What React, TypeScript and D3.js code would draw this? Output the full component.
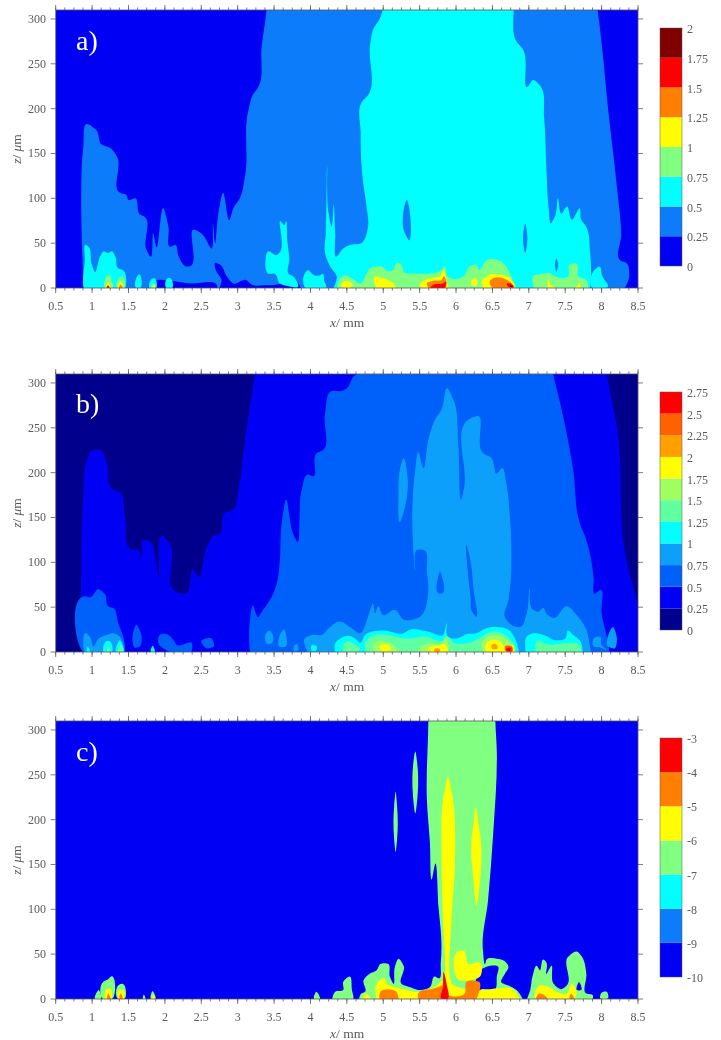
import React from 'react';
import * as d3 from 'd3';

type Pt = [number, number];
type Layer = [number, Pt[]];

const xTicks = [0.5, 1, 1.5, 2, 2.5, 3, 3.5, 4, 4.5, 5, 5.5, 6, 6.5, 7, 7.5, 8, 8.5];
const xLabels = ['0.5', '1', '1.5', '2', '2.5', '3', '3.5', '4', '4.5', '5', '5.5', '6', '6.5', '7', '7.5', '8', '8.5'];
const zTicks = [0, 50, 100, 150, 200, 250, 300];

const aLevels = ['0', '0.25', '0.5', '0.75', '1', '1.25', '1.5', '1.75', '2'];
const bLevels = ['0', '0.25', '0.5', '0.75', '1', '1.25', '1.5', '1.75', '2', '2.25', '2.5', '2.75'];
const cLevels = ['-10', '-9', '-8', '-7', '-6', '-5', '-4', '-3'];

const aColors = ['#0000f4', '#0a7cfa', '#00ffff', '#80ff80', '#ffff00', '#ff8000', '#ff0000', '#800000'];
const bColors = ['#00008c', '#0000f4', '#0560fa', '#0aa0fa', '#00ffff', '#60ffa0', '#a0ff60', '#ffff00', '#ffa000', '#ff6000', '#ff0000'];
const cColors = ['#0000f4', '#0a7cfa', '#00ffff', '#80ff80', '#ffff00', '#ff8000', '#ff0000'];

// panel a, contour outlines as [x mm, z um]
const a025: Pt[] = [[0.88, -2], [0.88, 0], [0.86, 50], [0.85, 98], [0.88, 158], [0.93, 183], [1.06, 176], [1.13, 160], [1.25, 156], [1.34, 147], [1.39, 106], [1.47, 104], [1.5, 98], [1.59, 100], [1.66, 82], [1.71, 80], [1.75, 42], [1.8, 35], [1.84, 61], [1.88, 46], [1.98, 89], [2.05, 68], [2.08, 46], [2.14, 48], [2.19, 35], [2.3, 24], [2.33, 24], [2.41, 65], [2.5, 61], [2.64, 44], [2.66, 72], [2.69, 50], [2.73, 80], [2.8, 106], [2.89, 76], [2.94, 89], [3.03, 100], [3.1, 124], [3.15, 199], [3.22, 217], [3.26, 221], [3.33, 270], [3.4, 312], [3.42, 330], [7.9, 330], [7.94, 312], [8.0, 273], [8.09, 199], [8.21, 113], [8.27, 61], [8.27, 30], [8.34, 28], [8.38, 16], [8.34, 3], [8.3, -2]];
const aDip: Pt[] = [[2.69, 28], [2.76, 26], [2.85, 13], [2.94, 5], [3.12, 9], [3.19, 4], [3.4, 3], [3.86, 1], [3.86, -2], [2.74, -2], [2.78, 8], [2.7, 20]];
const aDip2: Pt[] = [[1.8, 2], [2.36, 5], [2.72, 2], [2.72, -2], [1.8, -2]];
const aCyanMain: Pt[] = [[5.02, 330], [5.0, 312], [4.95, 300], [4.86, 288], [4.82, 272], [4.77, 213], [4.72, 209], [4.69, 172], [4.72, 120], [4.77, 91], [4.79, 68], [4.7, 50], [4.54, 48], [4.45, 44], [4.36, 35], [4.34, 61], [4.32, 93], [4.29, 68], [4.25, 83], [4.23, 135], [4.21, 61], [4.2, 39], [4.27, 24], [4.36, 13], [4.31, -2], [7.84, -2], [7.84, 42], [7.79, 68], [7.72, 76], [7.7, 89], [7.59, 76], [7.52, 91], [7.45, 83], [7.4, 100], [7.36, 80], [7.3, 72], [7.28, 83], [7.24, 136], [7.21, 190], [7.15, 226], [7.06, 232], [6.99, 225], [6.92, 266], [6.83, 275], [6.79, 312], [6.78, 330]];
const aCyanLeft: Pt[] = [[0.9, -2], [0.9, 30], [0.92, 48], [0.95, 46], [0.99, 28], [1.04, 18], [1.11, 35], [1.16, 41], [1.22, 39], [1.27, 41], [1.32, 35], [1.36, 22], [1.42, 20], [1.45, -2]];
const aCyan1: Pt[] = [[1.61, 0], [1.62, 13], [1.64, 15], [1.66, 0]];
const aCyan2: Pt[] = [[1.79, 0], [1.82, 10], [1.85, 11], [1.88, 0]];
const aCyan3: Pt[] = [[2.02, 0], [2.04, 11], [2.07, 11], [2.1, 0]];
const aCyan4: Pt[] = [[3.38, 28], [3.42, 41], [3.54, 37], [3.57, 39], [3.6, 74], [3.64, 70], [3.66, 74], [3.68, 54], [3.71, 31], [3.7, 16], [3.76, 13], [3.83, 1], [3.7, 2], [3.58, 5], [3.51, 16], [3.42, 16], [3.38, 24]];
const aCyan5: Pt[] = [[3.92, 1], [3.92, 16], [3.97, 20], [4.02, 16], [4.06, 14], [4.12, 14], [4.17, 16], [4.19, 8], [4.22, 1]];
const aCyan6: Pt[] = [[7.86, 1], [7.9, 20], [7.97, 24], [8.01, 13], [8.09, 2]];
const aHole1: Pt[] = [[5.32, 98], [5.27, 80], [5.28, 65], [5.36, 53], [5.38, 69]];
const aHole2: Pt[] = [[6.95, 72], [6.92, 54], [6.95, 39], [6.98, 54]];
const aHole3: Pt[] = [[7.38, 33], [7.36, 26], [7.38, 18], [7.4, 26]];
const aGreenMain: Pt[] = [[4.36, -2], [4.41, 11], [4.47, 14], [4.57, 11], [4.68, 5], [4.77, 16], [4.82, 22], [4.91, 24], [4.98, 24], [5.05, 19], [5.14, 20], [5.18, 28], [5.25, 26], [5.28, 18], [5.46, 16], [5.6, 16], [5.78, 19], [5.85, 24], [5.88, 13], [6.01, 10], [6.1, 13], [6.19, 24], [6.28, 26], [6.32, 20], [6.36, 24], [6.42, 31], [6.58, 31], [6.69, 24], [6.74, 16], [6.83, -2]];
const aGreenRight: Pt[] = [[7.06, 13], [7.18, 16], [7.31, 16], [7.36, 13], [7.47, 11], [7.54, 13], [7.56, 26], [7.66, 27], [7.68, 13], [7.79, 9], [7.82, -2], [7.08, -2]];
const aGreen1: Pt[] = [[1.18, 0], [1.2, 13], [1.23, 15], [1.27, 9], [1.28, 0]];
const aGreen2: Pt[] = [[1.34, 0], [1.37, 11], [1.41, 13], [1.44, 0]];
const aGreen3: Pt[] = [[1.81, 0], [1.84, 6], [1.87, 0]];
const aYellow1: Pt[] = [[4.89, 13], [5.0, 11], [5.14, 5], [5.18, 0], [4.9, 0]];
const aYellow2: Pt[] = [[5.5, 3], [5.57, 9], [5.66, 11], [5.78, 13], [5.83, 20], [5.88, 5], [5.9, 0], [5.52, 0]];
const aYellow3: Pt[] = [[6.35, 7], [6.44, 14], [6.65, 14], [6.74, 11], [6.82, 0], [6.37, 0]];
const aYellow4: Pt[] = [[7.26, 0], [7.27, 10], [7.3, 4], [7.68, 4], [7.69, 7], [7.71, 0]];
const aYellow5: Pt[] = [[6.21, 3], [6.24, 11], [6.28, 10], [6.29, 3]];
const aYellow6: Pt[] = [[4.42, 3], [4.48, 8], [4.58, 3], [4.56, 1], [4.44, 1]];
const aYellow7: Pt[] = [[1.2, 0], [1.22, 7], [1.25, 0]];
const aYellow8: Pt[] = [[1.36, 0], [1.39, 7], [1.43, 0]];
const aYellow9: Pt[] = [[1.83, 0], [1.85, 3], [1.86, 0]];
const aOrange1: Pt[] = [[5.6, 5], [5.69, 8], [5.8, 9], [5.83, 13], [5.87, 3], [5.86, 0], [5.62, 0]];
const aOrange2: Pt[] = [[6.46, 7], [6.51, 11], [6.65, 11], [6.74, 7], [6.8, 2], [6.48, 2]];
const aOrange3: Pt[] = [[1.37, 0], [1.39, 4], [1.42, 0]];
const aRed1: Pt[] = [[5.65, 1], [5.7, 4], [5.82, 5], [5.86, 7], [5.85, 1]];
const aRed2: Pt[] = [[6.7, 5], [6.75, 5], [6.79, 1], [6.72, 1]];
const aRed3: Pt[] = [[1.2, 0], [1.22, 3], [1.24, 0]];
const aDark1: Pt[] = [[6.74, 3], [6.77, 3], [6.78, 1], [6.75, 1]];

// panel b
const b025: Pt[] = [[0.87, -2], [0.87, 0], [0.85, 50], [0.85, 103], [0.88, 177], [0.93, 214], [0.99, 224], [1.11, 225], [1.2, 211], [1.29, 181], [1.37, 179], [1.45, 151], [1.56, 114], [1.63, 114], [1.68, 106], [1.71, 125], [1.8, 123], [1.86, 106], [1.91, 84], [1.98, 129], [2.05, 123], [2.16, 67], [2.28, 65], [2.39, 92], [2.45, 84], [2.58, 118], [2.66, 129], [2.75, 132], [2.82, 155], [2.94, 159], [3.01, 181], [3.1, 237], [3.24, 312], [3.27, 330], [8.05, 330], [8.07, 312], [8.21, 252], [8.34, 103], [8.48, 58], [8.52, 40], [8.6, 20], [8.6, -2]];
const b05Main: Pt[] = [[3.17, -2], [3.17, 36], [3.21, 52], [3.28, 39], [3.35, 47], [3.47, 62], [3.54, 77], [3.58, 103], [3.6, 140], [3.67, 170], [3.72, 147], [3.76, 132], [3.82, 123], [3.85, 147], [3.88, 181], [3.97, 198], [4.03, 196], [4.09, 222], [4.15, 224], [4.2, 266], [4.29, 291], [4.43, 291], [4.5, 294], [4.59, 307], [4.66, 312], [4.7, 330], [7.3, 330], [7.33, 312], [7.43, 278], [7.61, 203], [7.7, 144], [7.79, 125], [7.89, 84], [7.91, 65], [7.98, 69], [8.0, 43], [8.09, 10], [8.11, -2]];
const b05Left: Pt[] = [[0.9, -2], [0.92, 62], [0.97, 61], [1.09, 70], [1.18, 64], [1.22, 51], [1.29, 49], [1.36, 32], [1.44, 13], [1.45, -2]];
const b05a: Pt[] = [[1.56, 10], [1.61, 30], [1.68, 17], [1.65, 6], [1.58, 5]];
const b05b: Pt[] = [[1.91, 10], [1.93, 19], [2.02, 20], [2.12, 13], [2.16, 8], [2.37, 10], [2.37, 2], [2.02, 2]];
const b05c: Pt[] = [[2.5, 12], [2.64, 15], [2.67, 6], [2.58, 4]];
const b075Island: Pt[] = [[5.28, 216], [5.33, 199], [5.3, 162], [5.23, 145], [5.21, 177], [5.23, 204]];
const b075Main: Pt[] = [[3.97, -2], [3.92, 15], [4.03, 19], [4.15, 19], [4.27, 28], [4.4, 34], [4.54, 28], [4.68, 21], [4.79, 39], [4.86, 54], [4.89, 43], [4.93, 51], [5, 41], [5.16, 47], [5.28, 36], [5.5, 39], [5.62, 69], [5.6, 88], [5.55, 114], [5.47, 114], [5.44, 92], [5.41, 120], [5.4, 160], [5.44, 203], [5.48, 223], [5.55, 205], [5.62, 237], [5.71, 259], [5.8, 270], [5.88, 294], [5.96, 282], [6.03, 233], [6.08, 172], [6.11, 183], [6.21, 261], [6.28, 263], [6.37, 222], [6.49, 216], [6.56, 199], [6.63, 205], [6.69, 188], [6.74, 150], [6.76, 118], [6.72, 58], [6.67, 39], [6.83, 28], [6.88, 28], [6.97, 43], [7.01, 71], [7.06, 47], [7.13, 45], [7.2, 49], [7.24, 43], [7.34, 38], [7.52, 51], [7.66, 41], [7.79, 25], [7.84, 6], [7.86, -2]];
const bNotch: Pt[] = [[6.15, 118], [6.2, 60], [6.22, 45], [6.27, 40], [6.24, 70], [6.19, 105]];
const bNotch2: Pt[] = [[5.78, 90], [5.77, 65], [5.8, 65]];
const b075Left: Pt[] = [[0.9, -2], [0.92, 21], [0.97, 17], [1.02, 6], [1.09, 15], [1.2, 19], [1.29, 21], [1.38, 17], [1.44, 2], [1.44, -2]];
const b075a: Pt[] = [[3.38, 19], [3.43, 24], [3.49, 17], [3.47, 10], [3.41, 9]];
const b075b: Pt[] = [[3.56, 13], [3.64, 25], [3.67, 17], [3.66, 6], [3.57, 6]];
const b075c: Pt[] = [[3.77, 6], [3.81, 9], [3.83, 2], [3.78, 1]];
const b075d: Pt[] = [[7.89, 15], [7.98, 17], [8.0, 8], [8.07, 2], [7.98, 5], [7.89, 6]];
const b075e: Pt[] = [[8.09, 6], [8.16, 28], [8.21, 13], [8.18, 4]];
const b1Main: Pt[] = [[4.34, -2], [4.34, 10], [4.41, 15], [4.52, 18], [4.63, 14], [4.68, 10], [4.75, 19], [4.86, 23], [5, 24], [5.28, 21], [5.37, 25], [5.6, 23], [5.82, 19], [5.87, 32], [5.89, 17], [6.01, 15], [6.15, 20], [6.28, 21], [6.4, 26], [6.56, 28], [6.72, 25], [6.81, 15], [6.87, -2]];
const b1Right: Pt[] = [[6.95, 6], [6.97, 17], [7.06, 21], [7.2, 19], [7.38, 13], [7.5, 15], [7.54, 24], [7.61, 19], [7.7, 13], [7.74, -2], [6.96, -2]];
const b1a: Pt[] = [[4.02, 8], [4.09, 6], [4.07, 1], [4.02, 1]];
const b1b: Pt[] = [[0.93, 0], [0.94, 6], [0.97, 0]];
const b1c: Pt[] = [[1.16, 0], [1.2, 12], [1.24, 12], [1.27, 0]];
const b1d: Pt[] = [[1.33, 0], [1.38, 13], [1.43, 0]];
const b1e: Pt[] = [[1.81, 0], [1.83, 7], [1.86, 0]];
const b125Main: Pt[] = [[4.75, 10], [4.82, 17], [5.05, 19], [5.28, 15], [5.6, 17], [5.82, 13], [5.86, 18], [5.98, 10], [6.24, 12], [6.35, 17], [6.51, 23], [6.67, 19], [6.81, 6], [6.82, 0], [4.76, 0]];
const b125Right: Pt[] = [[7.11, 12], [7.29, 8], [7.52, 10], [7.7, 8], [7.72, 1], [7.09, 1]];
const b125a: Pt[] = [[4.44, 5], [4.5, 12], [4.61, 8], [4.68, 4], [4.66, 1], [4.45, 1]];
const b125b: Pt[] = [[1.21, 0], [1.22, 7], [1.24, 0]];
const b125c: Pt[] = [[1.36, 0], [1.39, 8], [1.42, 0]];
const b15Main: Pt[] = [[4.86, 8], [4.91, 12], [5.09, 10], [5.18, 5], [5.2, 1], [4.88, 1]];
const b15b: Pt[] = [[5.5, 4], [5.62, 9], [5.8, 9], [5.85, 16], [5.9, 4], [5.9, 1], [5.52, 1]];
const b15c: Pt[] = [[6.35, 10], [6.44, 17], [6.6, 18], [6.72, 12], [6.79, 3], [6.8, 0], [6.37, 0]];
const b175a: Pt[] = [[4.95, 6], [5.07, 8], [5.11, 3], [4.97, 2]];
const b175b: Pt[] = [[5.62, 4], [5.71, 7], [5.87, 7], [5.89, 1], [5.64, 1]];
const b175c: Pt[] = [[6.4, 5], [6.44, 12], [6.6, 12], [6.65, 7], [6.79, 7], [6.8, 1], [6.41, 1]];
const b2a: Pt[] = [[6.49, 8], [6.56, 8], [6.57, 4], [6.49, 4]];
const b2b: Pt[] = [[5.7, 3], [5.78, 3], [5.78, 1], [5.7, 1]];
const b2c: Pt[] = [[6.67, 6], [6.77, 6], [6.78, 1], [6.68, 1]];
const b25a: Pt[] = [[6.69, 4], [6.76, 4], [6.76, 2], [6.69, 2]];

// panel c
const cGreenMain: Pt[] = [[4.66, -2], [4.7, 6], [4.75, 8], [4.73, 21], [4.81, 28], [4.91, 32], [4.96, 39], [5.07, 39], [5.09, 25], [5.14, 17], [5.16, 36], [5.21, 45], [5.28, 37], [5.25, 17], [5.37, 13], [5.48, 10], [5.64, 13], [5.71, 25], [5.76, 23], [5.79, 40], [5.8, 58], [5.76, 102], [5.71, 150], [5.67, 134], [5.64, 176], [5.6, 221], [5.62, 312], [5.62, 330], [6.54, 330], [6.54, 312], [6.56, 277], [6.51, 184], [6.44, 110], [6.37, 54], [6.4, 39], [6.42, 44], [6.56, 45], [6.67, 42], [6.72, 36], [6.67, 28], [6.62, 19], [6.72, 15], [6.83, 10], [6.93, -2]];
const cHole: Pt[] = [[6.33, 32], [6.42, 36], [6.58, 36], [6.56, 25], [6.54, 11], [6.33, 10], [6.29, 5]];
const cGreenRight: Pt[] = [[6.97, -2], [7.02, 10], [7.05, 25], [7.11, 37], [7.15, 32], [7.2, 44], [7.24, 41], [7.24, 28], [7.31, 37], [7.34, 17], [7.45, 11], [7.52, 15], [7.54, 47], [7.66, 53], [7.73, 47], [7.79, 28], [7.79, 6], [7.88, 4], [7.87, -2]];
const cHole2: Pt[] = [[7.69, 19], [7.72, 10], [7.66, 10]];
const cGreenSmall: Pt[] = [[8.0, 7], [8.07, 8], [8.09, 1], [7.98, 1]];
const cIsland1: Pt[] = [[5.44, 276], [5.47, 260], [5.48, 247], [5.47, 225], [5.44, 207], [5.41, 225], [5.4, 247], [5.41, 260]];
const cIsland2: Pt[] = [[5.17, 231], [5.19, 215], [5.2, 195], [5.19, 178], [5.17, 164], [5.15, 178], [5.14, 199], [5.15, 215]];
const cG1: Pt[] = [[4.3, 0], [4.34, 8], [4.45, 10], [4.45, 19], [4.54, 25], [4.57, 10], [4.59, 0]];
const cG2: Pt[] = [[4.05, 0], [4.08, 8], [4.13, 0]];
const cG3: Pt[] = [[1.04, 0], [1.09, 10], [1.12, 0]];
const cG4: Pt[] = [[1.15, 0], [1.15, 19], [1.22, 22], [1.26, 25], [1.27, 0]];
const cG5: Pt[] = [[1.36, 0], [1.37, 16], [1.41, 17], [1.44, 0]];
const cG6: Pt[] = [[1.7, 0], [1.71, 5], [1.73, 0]];
const cG7: Pt[] = [[1.81, 0], [1.83, 9], [1.87, 0]];
const cYellowLobe1: Pt[] = [[5.89, 248], [5.93, 235], [5.96, 221], [5.99, 165], [5.94, 91], [5.91, 28], [5.93, 6], [5.84, 6], [5.85, 28], [5.82, 91], [5.8, 166], [5.82, 221], [5.85, 235]];
const cYellowLobe2: Pt[] = [[6.27, 214], [6.31, 195], [6.34, 177], [6.33, 132], [6.28, 104], [6.24, 132], [6.21, 177], [6.24, 195]];
const cYellowFork: Pt[] = [[6.05, 54], [6.1, 54], [6.17, 39], [6.33, 41], [6.33, 25], [6.19, 21], [6.05, 21]];
const cYellowBand: Pt[] = [[4.91, -2], [4.91, 17], [5.0, 23], [5.07, 16], [5.18, 13], [5.32, 10], [5.48, 8], [5.73, 15], [5.82, 21], [6.0, 14], [6.33, 10], [6.6, 12], [6.76, 12], [6.85, 4], [6.88, -2]];
const cYellowRight: Pt[] = [[7.08, 4], [7.15, 15], [7.29, 13], [7.38, 8], [7.52, 6], [7.59, 17], [7.66, 6], [7.62, 0], [7.09, 0]];
const cY1: Pt[] = [[4.72, 0], [4.76, 6], [4.8, 4], [4.83, 0]];
const cY2: Pt[] = [[1.19, 0], [1.19, 10], [1.24, 12], [1.26, 0]];
const cY3: Pt[] = [[1.37, 0], [1.37, 10], [1.43, 10], [1.43, 0]];
const cY4: Pt[] = [[1.82, 0], [1.84, 5], [1.86, 0]];
const cOrange1: Pt[] = [[4.95, 0], [4.96, 8], [5.18, 8], [5.21, 0]];
const cOrange2: Pt[] = [[5.48, 6], [5.71, 12], [5.82, 15], [5.86, 6], [6.12, 6], [6.14, 19], [6.32, 19], [6.28, 0], [5.48, 0]];
const cOrange3: Pt[] = [[7.1, 0], [7.14, 6], [7.22, 4], [7.26, 0]];
const cOrange4: Pt[] = [[7.56, 0], [7.58, 6], [7.62, 0]];
const cOrange5: Pt[] = [[1.21, 0], [1.22, 6], [1.25, 0]];
const cOrange6: Pt[] = [[1.38, 0], [1.39, 6], [1.42, 0]];
const cRed: Pt[] = [[5.83, 30], [5.87, 17], [5.88, 0], [5.8, 0], [5.82, 13]];

const aLayers: Layer[] = [
  [1, a025], [0, aDip], [0, aDip2],
  [2, aCyanMain], [2, aCyanLeft], [2, aCyan1], [2, aCyan2], [2, aCyan3], [2, aCyan4], [2, aCyan5], [2, aCyan6],
  [1, aHole1], [1, aHole2], [1, aHole3],
  [3, aGreenMain], [3, aGreenRight], [3, aGreen1], [3, aGreen2], [3, aGreen3],
  [4, aYellow1], [4, aYellow2], [4, aYellow3], [4, aYellow4], [4, aYellow5], [4, aYellow6], [4, aYellow7], [4, aYellow8], [4, aYellow9],
  [5, aOrange1], [5, aOrange2], [5, aOrange3],
  [6, aRed1], [6, aRed2], [6, aRed3], [7, aDark1],
];
const bLayers: Layer[] = [
  [1, b025],
  [2, b05Main], [2, b05Left], [2, b05a], [2, b05b], [2, b05c],
  [3, b075Island], [3, b075Main], [2, bNotch], [2, bNotch2], [3, b075Left], [3, b075a], [3, b075b], [3, b075c], [3, b075d], [3, b075e],
  [4, b1Main], [4, b1Right], [4, b1a], [4, b1b], [4, b1c], [4, b1d], [4, b1e],
  [5, b125Main], [5, b125Right], [5, b125a], [5, b125b], [5, b125c],
  [6, b15Main], [6, b15b], [6, b15c],
  [7, b175a], [7, b175b], [7, b175c],
  [8, b2a], [8, b2b], [9, b2c], [10, b25a],
];
const cLayers: Layer[] = [
  [3, cGreenMain], [0, cHole], [3, cGreenRight], [0, cHole2], [3, cGreenSmall], [3, cIsland1], [3, cIsland2],
  [3, cG1], [3, cG2], [3, cG3], [3, cG4], [3, cG5], [3, cG6], [3, cG7],
  [4, cYellowLobe1], [4, cYellowLobe2], [4, cYellowFork], [4, cYellowBand], [4, cYellowRight], [4, cY1], [4, cY2], [4, cY3], [4, cY4],
  [5, cOrange1], [5, cOrange2], [5, cOrange3], [5, cOrange4], [5, cOrange5], [5, cOrange6],
  [6, cRed],
];

const SERIF = '"Liberation Serif", serif';
const INK = '#5a5a5a';
const xScale = d3.scaleLinear().domain([0.5, 8.5]).range([55.7, 638]);
// three minor ticks between labelled ones
const minorTicks = d3.range(0, 65).map((d) => 0.5 + d / 8);

function Panel({ id, label, y0, labelY, barTop, barBottom, levels, colors, layers }: {
  id: string; label: string; y0: number; labelY: number; barTop: number; barBottom: number;
  levels: string[]; colors: string[]; layers: Layer[];
}) {
  const zScale = d3.scaleLinear().domain([0, 310]).range([y0, y0 - 278]);
  const top = zScale(310);
  const shape = d3.line<Pt>().x((d) => xScale(d[0])).y((d) => zScale(d[1])).curve(d3.curveCatmullRomClosed.alpha(1));
  const barScale = d3.scaleLinear().domain([0, colors.length]).range([barBottom, barTop]);

  return (
    <g fontFamily={SERIF} fontSize={12} fill={INK}>
      <clipPath id={id}>
        <rect x={xScale(0.5)} y={top} width={xScale(8.5) - xScale(0.5)} height={y0 - top} />
      </clipPath>
      <g clipPath={`url(#${id})`}>
        <rect x={xScale(0.5)} y={top} width={xScale(8.5) - xScale(0.5)} height={y0 - top} fill={colors[0]} />
        {layers.map(([level, pts], i) => (
          <path key={i} d={shape(pts) ?? ''} fill={colors[level]} />
        ))}
      </g>
      <g stroke={INK} strokeWidth={0.8} fill="none">
        <rect x={xScale(0.5)} y={top} width={xScale(8.5) - xScale(0.5)} height={y0 - top} />
        {minorTicks.map((t) => (
          <g key={t}>
            <line x1={xScale(t)} x2={xScale(t)} y1={y0} y2={y0 + 2.5} />
            <line x1={xScale(t)} x2={xScale(t)} y1={top} y2={top - 2.5} />
          </g>
        ))}
        {xTicks.map((t) => (
          <g key={t}>
            <line x1={xScale(t)} x2={xScale(t)} y1={y0} y2={y0 + 5} />
            <line x1={xScale(t)} x2={xScale(t)} y1={top} y2={top - 5} />
          </g>
        ))}
        {zTicks.map((t) => (
          <g key={t}>
            <line x1={xScale(0.5) - 5} x2={xScale(0.5)} y1={zScale(t)} y2={zScale(t)} />
            <line x1={xScale(8.5)} x2={xScale(8.5) + 5} y1={zScale(t)} y2={zScale(t)} />
          </g>
        ))}
      </g>
      {xTicks.map((t, i) => (
        <text key={t} x={xScale(t)} y={y0 + 22} textAnchor="middle">{xLabels[i]}</text>
      ))}
      {zTicks.map((t) => (
        <text key={t} x={46} y={zScale(t) + 4} textAnchor="end">{t}</text>
      ))}
      <text x={330} y={y0 + 39} fontSize={13.5}>
        <tspan fontStyle="italic">x</tspan>/ mm
      </text>
      <text transform={`translate(21,${zScale(155)}) rotate(-90)`} textAnchor="middle" fontSize={13.5}>
        <tspan fontStyle="italic">z</tspan>/ <tspan fontStyle="italic">μ</tspan>m
      </text>
      <text x={76} y={labelY} fontSize={28} fill="#ffffff">{label}</text>
      {colors.map((c, i) => (
        <rect key={c + i} x={660} width={22} y={barScale(i + 1)} height={barScale(i) - barScale(i + 1)} fill={c} />
      ))}
      <rect x={660} y={barTop} width={22} height={barBottom - barTop} fill="none" stroke={INK} strokeWidth={0.5} />
      {levels.map((l, i) => (
        <text key={l} x={687} y={barScale(i) + 5}>{l}</text>
      ))}
    </g>
  );
}

export default function App() {
  return (
    <svg width={721} height={1040} style={{ position: 'absolute', left: 0, top: 0, background: '#fff' }}>
      <filter id="soft" x="0" y="0" width="100%" height="100%" filterUnits="userSpaceOnUse">
        <feGaussianBlur stdDeviation={0.55} />
      </filter>
      <g filter="url(#soft)">
        <Panel id="pa" label="a)" y0={288} labelY={50} barTop={28} barBottom={266} levels={aLevels} colors={aColors} layers={aLayers} />
        <Panel id="pb" label="b)" y0={652} labelY={413} barTop={392} barBottom={630} levels={bLevels} colors={bColors} layers={bLayers} />
        <Panel id="pc" label="c)" y0={999} labelY={761} barTop={738} barBottom={977} levels={cLevels} colors={cColors} layers={cLayers} />
      </g>
    </svg>
  );
}
